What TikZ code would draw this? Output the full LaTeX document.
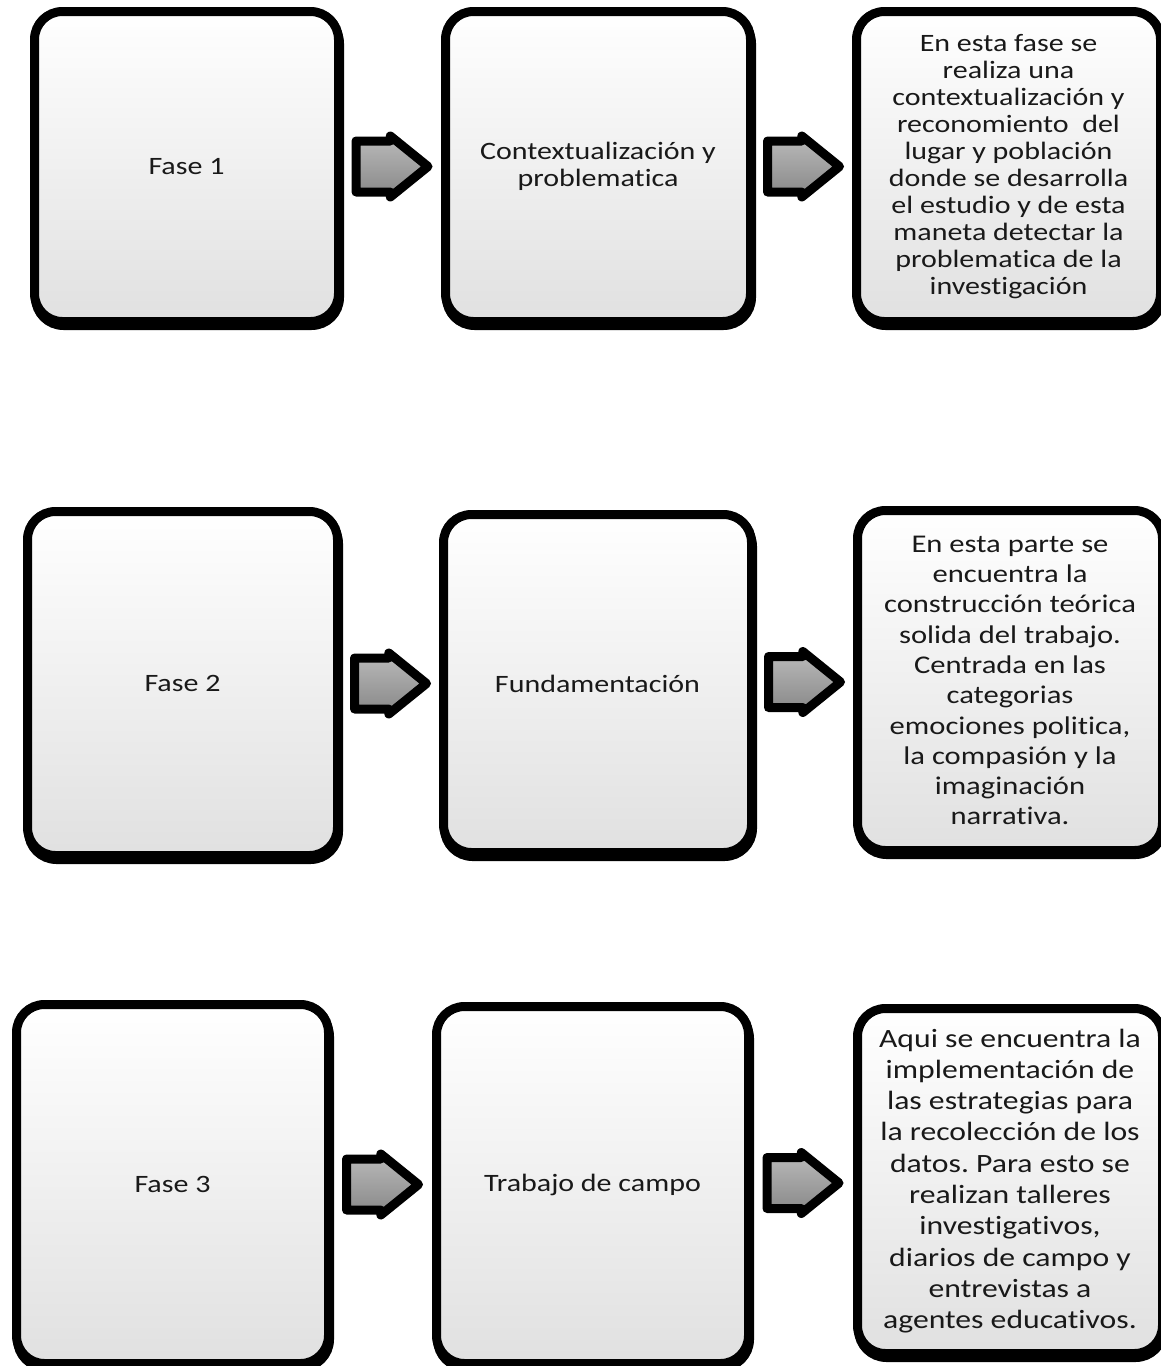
\documentclass[tikz,border=0pt]{standalone}
\usepackage{fontspec}
\setmainfont{Carlito}[FakeStretch=1.2, Ligatures=CommonOff]
\usepackage{tikz}
\usetikzlibrary{shapes.arrows,calc}
\frenchspacing

\begin{document}
\begin{tikzpicture}[x=1pt, y=-1pt,
    fasebox/.style={draw=black, line width=9pt, rounded corners=28pt,
        top color=white, middle color=white, bottom color=black!12,
        preaction={draw=black, line width=9pt, transform canvas={shift={(1pt,-4pt)}}},
        text=black!90, align=center, inner sep=0pt,
        font=\fontsize{25}{27}\selectfont},
    flecha/.style={single arrow, draw=black, line width=9pt, line join=round,
        top color=black!27, bottom color=black!47,
        minimum height=72pt, inner xsep=0pt, inner ysep=21pt,
        single arrow head extend=5pt, single arrow tip angle=78,
        single arrow head indent=0pt, anchor=tail}]
    \useasboundingbox (0,0) rectangle (1160,1366);

    % First row: fase 1
    \node[fasebox, minimum width=304pt, minimum height=310pt] (fase1) at (186.5,166.5) {Fase 1};
    \node[fasebox, minimum width=305pt, minimum height=310pt] (tema1) at (598,166.5)
        {Contextualización y\\problematica};
    \node[fasebox, minimum width=304pt, minimum height=310pt] (desc1) at (1008.5,166.5)
        {En esta fase se\\realiza una\\contextualización y\\reconomiento\ \ del\\lugar y población\\
         donde se desarrolla\\el estudio y de esta\\maneta detectar la\\problematica de la\\investigación};

    % Second row: fase 2
    \node[fasebox, minimum width=310pt, minimum height=344pt] (fase2) at (182.5,683.5) {Fase 2};
    \node[fasebox, minimum width=308pt, minimum height=338pt] (tema2) at (597.5,683.5) {Fundamentación};
    \node[fasebox, minimum width=305pt, minimum height=340pt,
        font=\fontsize{25.5}{30.3}\selectfont] (desc2) at (1010,680.5)
        {En esta parte se\\encuentra la\\construcción teórica\\solida del trabajo.\\Centrada en las\\
         categorias\\emociones politica,\\la compasión y la\\imaginación\\narrativa.};

    % Third row: fase 3
    \node[fasebox, minimum width=312pt, minimum height=359pt] (fase3) at (172.5,1184) {Fase 3};
    \node[fasebox, minimum width=312pt, minimum height=357pt] (tema3) at (592.5,1185) {Trabajo de campo};
    \node[fasebox, minimum width=305pt, minimum height=345pt,
        font=\fontsize{26.4}{31.3}\selectfont] (desc3) at (1010,1181)
        {Aqui se encuentra la\\implementación de\\las estrategias para\\la recolección de los\\
         datos. Para esto se\\realizan talleres\\investigativos,\\diarios de campo y\\entrevistas a\\agentes educativos.};

    % Block arrows half way between the boxes (tail 40.5 left of the middle)
    \foreach \n in {1,2,3} {
        \node[flecha] (fa\n) at ($(fase\n.east)!0.5!(tema\n.west)+(-40.5,0)$) {};
        \node[flecha] (fb\n) at ($(tema\n.east)!0.5!(desc\n.west)+(-40.5,0)$) {};
    }

\end{tikzpicture}
\end{document}
